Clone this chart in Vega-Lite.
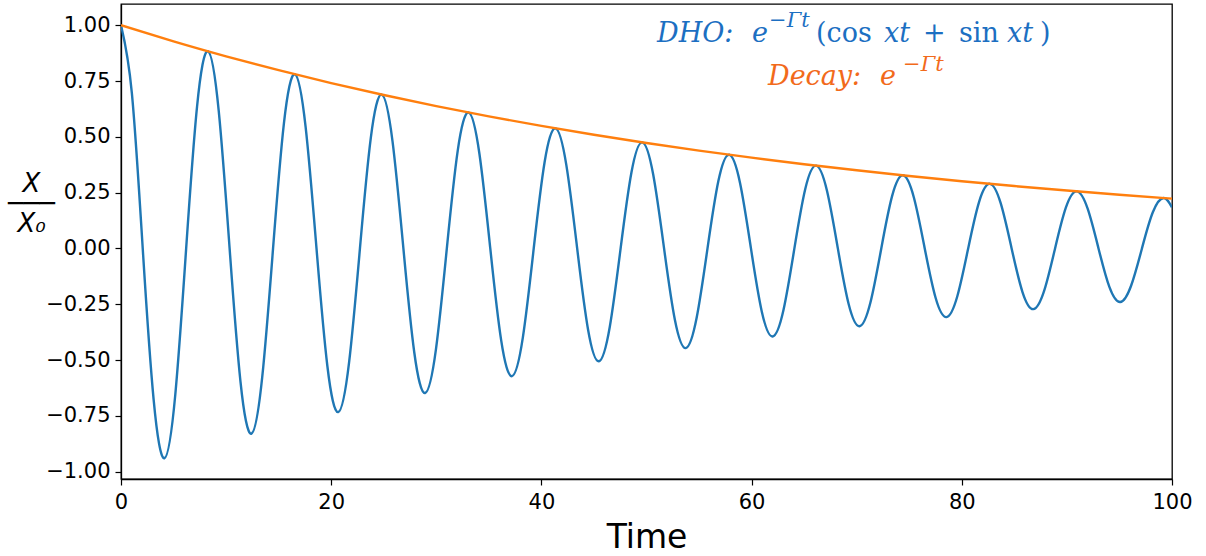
{
  "$schema": "https://vega.github.io/schema/vega-lite/v6.json",
  "width": 1051,
  "height": 475,
  "autosize": {"type": "none"},
  "padding": {"left": 121, "top": 4, "right": 34, "bottom": 77},
  "background": "white",
  "config": {
    "view": {"stroke": "black", "strokeWidth": 1.3},
    "axis": {
      "grid": false,
      "domainColor": "black",
      "domainWidth": 1.3,
      "tickColor": "black",
      "tickWidth": 1.2,
      "tickSize": 6,
      "labelFont": "DejaVu Sans",
      "labelFontSize": 21,
      "labelColor": "black",
      "labelFlush": false,
      "titleFont": "DejaVu Sans",
      "titleColor": "black",
      "titleFontWeight": "normal"
    }
  },
  "datasets": {
    "dho": [
      {"t": 0, "y": 1},
      {"t": 1.0334, "y": 0.6962},
      {"t": 2.0668, "y": 0},
      {"t": 3.1003, "y": -0.675},
      {"t": 4.1337, "y": -0.9399},
      {"t": 5.1671, "y": -0.6544},
      {"t": 6.2005, "y": 0},
      {"t": 7.2339, "y": 0.6344},
      {"t": 8.2674, "y": 0.8834},
      {"t": 9.3008, "y": 0.615},
      {"t": 10.3342, "y": 0},
      {"t": 11.3677, "y": -0.5963},
      {"t": 12.4011, "y": -0.8303},
      {"t": 13.4345, "y": -0.5781},
      {"t": 14.4679, "y": 0},
      {"t": 15.5013, "y": 0.5604},
      {"t": 16.5347, "y": 0.7803},
      {"t": 17.5681, "y": 0.5433},
      {"t": 18.6015, "y": 0},
      {"t": 19.635, "y": -0.5267},
      {"t": 20.6684, "y": -0.7334},
      {"t": 21.7018, "y": -0.5106},
      {"t": 22.7352, "y": 0},
      {"t": 23.7686, "y": 0.4951},
      {"t": 24.8021, "y": 0.6893},
      {"t": 25.8355, "y": 0.4799},
      {"t": 26.8689, "y": 0},
      {"t": 27.9024, "y": -0.4653},
      {"t": 28.9358, "y": -0.6479},
      {"t": 29.9692, "y": -0.4511},
      {"t": 31.0026, "y": 0},
      {"t": 32.036, "y": 0.4373},
      {"t": 33.0694, "y": 0.6089},
      {"t": 34.1028, "y": 0.424},
      {"t": 35.1362, "y": 0},
      {"t": 36.1697, "y": -0.411},
      {"t": 37.2031, "y": -0.5723},
      {"t": 38.2365, "y": -0.3985},
      {"t": 39.2699, "y": 0},
      {"t": 40.3033, "y": 0.3863},
      {"t": 41.3368, "y": 0.5379},
      {"t": 42.3702, "y": 0.3745},
      {"t": 43.4036, "y": 0},
      {"t": 44.4371, "y": -0.3631},
      {"t": 45.4705, "y": -0.5056},
      {"t": 46.5039, "y": -0.352},
      {"t": 47.5373, "y": 0},
      {"t": 48.5707, "y": 0.3413},
      {"t": 49.6041, "y": 0.4752},
      {"t": 50.6375, "y": 0.3308},
      {"t": 51.6709, "y": 0},
      {"t": 52.7044, "y": -0.3207},
      {"t": 53.7378, "y": -0.4466},
      {"t": 54.7712, "y": -0.3109},
      {"t": 55.8046, "y": 0},
      {"t": 56.838, "y": 0.3015},
      {"t": 57.8715, "y": 0.4198},
      {"t": 58.9049, "y": 0.2923},
      {"t": 59.9383, "y": 0},
      {"t": 60.9718, "y": -0.2833},
      {"t": 62.0052, "y": -0.3945},
      {"t": 63.0386, "y": -0.2747},
      {"t": 64.072, "y": 0},
      {"t": 65.1054, "y": 0.2663},
      {"t": 66.1388, "y": 0.3708},
      {"t": 67.1722, "y": 0.2582},
      {"t": 68.2056, "y": 0},
      {"t": 69.2391, "y": -0.2503},
      {"t": 70.2725, "y": -0.3485},
      {"t": 71.3059, "y": -0.2426},
      {"t": 72.3393, "y": 0},
      {"t": 73.3727, "y": 0.2352},
      {"t": 74.4062, "y": 0.3276},
      {"t": 75.4396, "y": 0.2281},
      {"t": 76.473, "y": 0},
      {"t": 77.5065, "y": -0.2211},
      {"t": 78.5399, "y": -0.3079},
      {"t": 79.5733, "y": -0.2143},
      {"t": 80.6067, "y": 0},
      {"t": 81.6401, "y": 0.2078},
      {"t": 82.6735, "y": 0.2894},
      {"t": 83.7069, "y": 0.2015},
      {"t": 84.7403, "y": 0},
      {"t": 85.7738, "y": -0.1953},
      {"t": 86.8072, "y": -0.272},
      {"t": 87.8406, "y": -0.1893},
      {"t": 88.874, "y": 0},
      {"t": 89.9074, "y": 0.1836},
      {"t": 90.9409, "y": 0.2556},
      {"t": 91.9743, "y": 0.178},
      {"t": 93.0077, "y": 0},
      {"t": 94.0412, "y": -0.1725},
      {"t": 95.0746, "y": -0.2402},
      {"t": 96.108, "y": -0.1673},
      {"t": 97.1414, "y": 0},
      {"t": 98.1748, "y": 0.1622},
      {"t": 99.2082, "y": 0.2258},
      {"t": 100, "y": 0.1839}
    ],
    "decay": [
      {"t": 0, "y": 1},
      {"t": 5, "y": 0.92774},
      {"t": 10, "y": 0.86071},
      {"t": 15, "y": 0.79852},
      {"t": 20, "y": 0.74082},
      {"t": 25, "y": 0.68729},
      {"t": 30, "y": 0.63763},
      {"t": 35, "y": 0.59156},
      {"t": 40, "y": 0.54881},
      {"t": 45, "y": 0.50916},
      {"t": 50, "y": 0.47237},
      {"t": 55, "y": 0.43824},
      {"t": 60, "y": 0.40657},
      {"t": 65, "y": 0.37719},
      {"t": 70, "y": 0.34994},
      {"t": 75, "y": 0.32465},
      {"t": 80, "y": 0.30119},
      {"t": 85, "y": 0.27943},
      {"t": 90, "y": 0.25924},
      {"t": 95, "y": 0.24051},
      {"t": 100, "y": 0.22313}
    ],
    "annItalic": [
      {"t": 51.0, "y": 0.926, "txt": "DHO:", "series": "DHO"},
      {"t": 60.04, "y": 0.926, "txt": "e", "series": "DHO"},
      {"t": 72.6, "y": 0.926, "txt": "xt", "series": "DHO"},
      {"t": 84.3, "y": 0.926, "txt": "xt", "series": "DHO"},
      {"t": 61.56, "y": 0.732, "txt": "Decay:", "series": "Decay"},
      {"t": 72.22, "y": 0.732, "txt": "e", "series": "Decay"}
    ],
    "annUpright": [
      {"t": 66.13, "y": 0.926, "txt": "(cos", "series": "DHO"},
      {"t": 76.31, "y": 0.926, "txt": "+", "series": "DHO"},
      {"t": 79.73, "y": 0.926, "txt": "sin", "series": "DHO"},
      {"t": 87.44, "y": 0.926, "txt": ")", "series": "DHO"}
    ],
    "annSup": [
      {"t": 61.66, "y": 0.9906, "txt": "−Γt", "series": "DHO"},
      {"t": 74.41, "y": 0.7966, "txt": "−Γt", "series": "Decay"}
    ]
  },
  "layer": [
    {
      "data": {"name": "dho"},
      "mark": {"type": "line", "color": "#1f77b4", "strokeWidth": 2.4, "interpolate": "natural", "clip": true},
      "encoding": {
        "x": {
          "field": "t", "type": "quantitative",
          "scale": {"domain": [0, 100], "nice": false, "zero": false},
          "axis": {
            "values": [0, 20, 40, 60, 80, 100],
            "format": "d",
            "labelPadding": 6,
            "title": "Time",
            "titleFontSize": 33,
            "titleBaseline": "alphabetic",
            "titleY": 68
          }
        },
        "y": {
          "field": "y", "type": "quantitative",
          "scale": {"domain": [-1.033, 1.095], "nice": false, "zero": false},
          "axis": {
            "values": [-1, -0.75, -0.5, -0.25, 0, 0.25, 0.5, 0.75, 1],
            "format": ".2f",
            "labelPadding": 5,
            "title": ["X", "───", "X₀"],
            "titleAngle": 0,
            "titleFontSize": 26,
            "titleFontStyle": "italic",
            "titleLineHeight": 20,
            "titleAlign": "center",
            "titleBaseline": "middle",
            "titleX": -90,
            "titleY": 179
          }
        }
      }
    },
    {
      "data": {"name": "decay"},
      "mark": {"type": "line", "color": "#ff7f0e", "strokeWidth": 2.4, "interpolate": "natural", "clip": true},
      "encoding": {
        "x": {"field": "t", "type": "quantitative"},
        "y": {"field": "y", "type": "quantitative"}
      }
    },
    {
      "data": {"name": "annItalic"},
      "mark": {"type": "text", "font": "DejaVu Serif", "fontStyle": "italic", "fontSize": 27, "align": "left", "baseline": "alphabetic"},
      "encoding": {
        "x": {"field": "t", "type": "quantitative"},
        "y": {"field": "y", "type": "quantitative"},
        "text": {"field": "txt"},
        "color": {"field": "series", "type": "nominal", "scale": {"domain": ["DHO", "Decay"], "range": ["#1c6fc2", "#f26a1b"]}, "legend": null}
      }
    },
    {
      "data": {"name": "annUpright"},
      "mark": {"type": "text", "font": "DejaVu Serif", "fontSize": 27, "align": "left", "baseline": "alphabetic"},
      "encoding": {
        "x": {"field": "t", "type": "quantitative"},
        "y": {"field": "y", "type": "quantitative"},
        "text": {"field": "txt"},
        "color": {"field": "series", "type": "nominal", "scale": {"domain": ["DHO", "Decay"], "range": ["#1c6fc2", "#f26a1b"]}, "legend": null}
      }
    },
    {
      "data": {"name": "annSup"},
      "mark": {"type": "text", "font": "DejaVu Serif", "fontStyle": "italic", "fontSize": 21, "align": "left", "baseline": "alphabetic"},
      "encoding": {
        "x": {"field": "t", "type": "quantitative"},
        "y": {"field": "y", "type": "quantitative"},
        "text": {"field": "txt"},
        "color": {"field": "series", "type": "nominal", "scale": {"domain": ["DHO", "Decay"], "range": ["#1c6fc2", "#f26a1b"]}, "legend": null}
      }
    }
  ]
}
